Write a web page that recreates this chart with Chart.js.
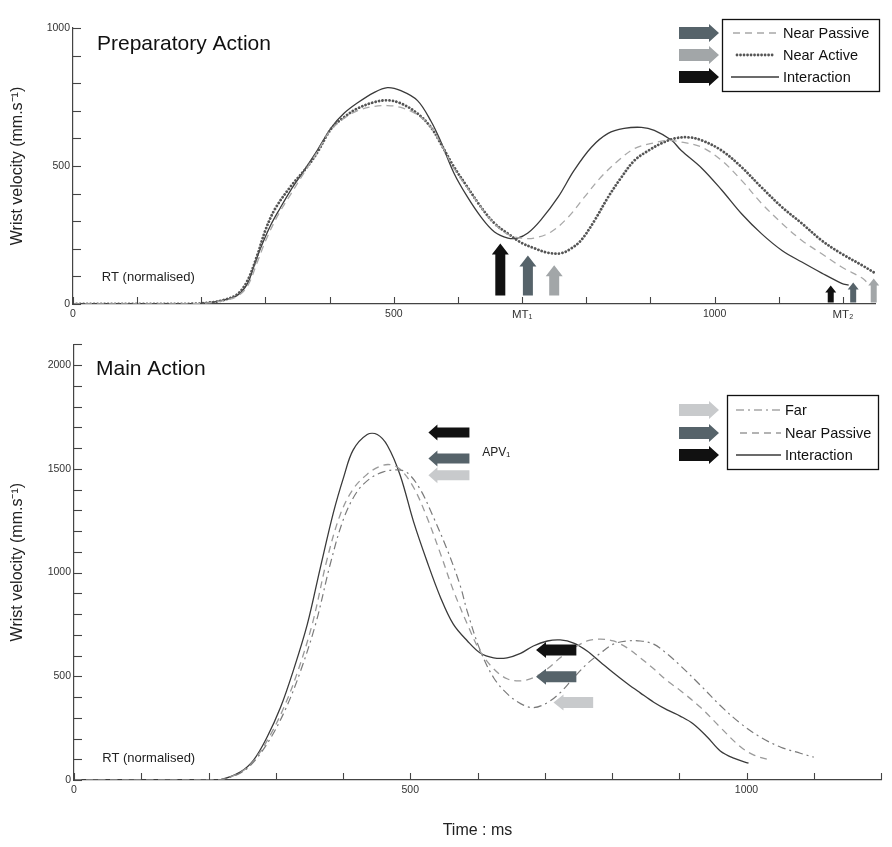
<!DOCTYPE html>
<html><head><meta charset="utf-8">
<script src="https://cdn.jsdelivr.net/npm/chart.js@4.4.1/dist/chart.umd.min.js"></script>
<style>
html,body{margin:0;padding:0;background:#fff;}
#wrap{position:relative;width:892px;height:847px;background:#fff;}
#c1{position:absolute;left:0;top:0;width:892px;height:335px;}
#c2{position:absolute;left:0;top:335px;width:892px;height:512px;}
</style></head><body>
<div id="wrap"><canvas id="c1" width="892" height="335"></canvas><canvas id="c2" width="892" height="512"></canvas></div>
<script>
// ---------- Preparatory Action (top) ----------
const prepNearPassiveT = [0,100,190,215,234,256,272,287,300,319,340,360,381,401,422,443,469,490,511,537,558,573,594,615,636,657,678,698,719,745,772,797,823,850,875,902,928,948,980,1011,1042,1073,1105,1136,1167,1198,1230,1237];
const prepNearPassiveV = [0,0,1,5,12,28,65,150,228,320,400,475,552,628,672,700,716,719,712,685,640,582,490,420,350,290,252,239,239,261,315,387,460,520,563,582,593,587,568,520,448,365,292,230,182,134,94,80];
const prepNearActiveT = [0,100,190,215,234,256,272,287,300,315,339,365,381,403,422,443,469,490,511,537,558,573,594,615,636,657,678,698,719,740,761,777,792,813,834,855,875,897,917,938,959,980,1011,1042,1073,1105,1136,1167,1198,1230,1250];
const prepNearActiveV = [0,0,1,6,14,35,85,175,268,345,425,497,550,637,676,708,731,738,727,690,640,582,496,423,351,292,255,223,202,186,184,202,231,303,387,460,520,556,582,600,604,593,556,496,423,351,292,230,182,140,112];
const prepInteractionT = [0,100,190,215,234,256,272,281,292,308,323,339,359,381,403,422,443,469,490,511,537,558,573,594,615,636,657,678,693,709,729,756,781,808,834,859,886,906,933,948,980,1011,1042,1073,1105,1136,1167,1198,1209];
const prepInteractionV = [0,0,1,6,14,31,74,130,200,285,348,411,480,558,640,690,728,766,784,773,737,662,590,473,387,315,261,239,239,257,304,387,484,568,618,636,640,629,593,556,492,413,327,255,194,152,112,75,68];
const prepTickValues = [0,500,700,1000,1200];
const prepTickLabels = ['0','500','MT\u2081','1000','MT\u2082'];
const prepYTickValues = [0,500,1000];
const prepYTickLabels = ['0','500','1000'];
// arrows: [time, velocity from, velocity to]
const prepMT1Arrows = [[666,31,219],[709,31,176],[750,31,140]];
const prepMT2Arrows = [[1181,5,67],[1216,5,78],[1248,5,92]];

// ---------- Main Action (bottom) ----------
const mainFarT = [0,100,200,217,247,267,292,315,337,360,381,401,421,441,460,481,496,515,534,555,574,585,604,624,644,664,683,704,723,743,763,783,802,823,842,862,882,902,932,961,991,1021,1051,1080,1100];
const mainFarV = [0,0,0,1,33,86,200,345,526,760,1040,1260,1390,1455,1485,1495,1480,1400,1270,1110,940,810,625,493,416,368,349,373,421,493,560,612,655,670,670,655,608,550,455,359,273,206,158,129,110];
const mainNearPassiveT = [0,100,200,217,247,267,290,312,333,355,376,396,415,436,455,470,485,505,525,545,564,585,604,624,644,664,683,704,723,743,763,783,802,823,842,862,882,902,932,961,991,1011,1036];
const mainNearPassiveV = [0,0,0,1,36,92,206,349,526,760,1060,1280,1402,1474,1512,1520,1498,1410,1265,1090,915,750,620,536,488,478,493,536,589,636,670,679,670,636,589,536,478,430,349,254,160,120,96];
const mainInteractionT = [0,100,200,217,247,267,287,307,326,347,366,386,401,415,436,451,466,485,505,525,545,564,585,604,624,644,664,683,704,723,743,763,783,802,823,842,862,882,902,921,942,961,981,1003];
const mainInteractionV = [0,0,0,1,38,96,206,349,526,751,1019,1292,1460,1590,1665,1665,1612,1469,1244,1053,880,751,670,612,589,589,610,646,670,675,660,622,568,517,464,420,375,338,307,270,206,140,105,81];
const mainTickValues = [0,500,1000];
const mainTickLabels = ['0','500','1000'];
const mainYTickValues = [0,500,1000,1500,2000];
const mainYTickLabels = ['0','500','1000','1500','2000'];
// arrows: [time tip, time tail, velocity]
const mainAPVArrows = [[527,588,1675],[527,588,1550],[527,588,1469]];
const mainSecondArrows = [[687,747,627],[687,747,498],[713,772,373]];

const BLACK = '#111111', DARK = '#56636a', LIGHT1 = '#a2a6a8', LIGHT2 = '#c8cacc';
const FONT = "'Liberation Sans', Arial, sans-serif";
Chart.defaults.font.family = FONT;

function pts(t, v) { return t.map((x, i) => ({x: x, y: v[i]})); }

function arrow(ctx, x0, y0, x1, y1, bw, hw, hl, color) {
  const dx = x1 - x0, dy = y1 - y0, len = Math.hypot(dx, dy);
  const ux = dx / len, uy = dy / len, px = -uy, py = ux;
  const nx = x1 - ux * hl, ny = y1 - uy * hl;
  ctx.beginPath();
  ctx.moveTo(x0 + px * bw / 2, y0 + py * bw / 2);
  ctx.lineTo(nx + px * bw / 2, ny + py * bw / 2);
  ctx.lineTo(nx + px * hw / 2, ny + py * hw / 2);
  ctx.lineTo(x1, y1);
  ctx.lineTo(nx - px * hw / 2, ny - py * hw / 2);
  ctx.lineTo(nx - px * bw / 2, ny - py * bw / 2);
  ctx.lineTo(x0 - px * bw / 2, y0 - py * bw / 2);
  ctx.closePath();
  ctx.fillStyle = color;
  ctx.fill();
}

function tickLabelFrom(values, labels) {
  return function (v) { const i = values.indexOf(v); return i >= 0 ? labels[i] : ''; };
}

function drawInwardTicks(chart, step) {
  const ctx = chart.ctx, xs = chart.scales.x, ys = chart.scales.y;
  ctx.save();
  ctx.strokeStyle = '#444';
  ctx.lineWidth = 1.1;
  xs.ticks.forEach(t => {
    if (t.value % step.x !== 0) return;
    const p = Math.round(xs.getPixelForValue(t.value)) + 0.5;
    ctx.beginPath(); ctx.moveTo(p, xs.top); ctx.lineTo(p, xs.top - 7); ctx.stroke();
  });
  ys.ticks.forEach(t => {
    if (t.value % step.y !== 0) return;
    const p = Math.round(ys.getPixelForValue(t.value)) + 0.5;
    ctx.beginPath(); ctx.moveTo(ys.right, p); ctx.lineTo(ys.right + 8, p); ctx.stroke();
  });
  ctx.restore();
}

function drawLegend(chart, L) {
  const ctx = chart.ctx;
  ctx.save();
  ctx.strokeStyle = '#111';
  ctx.lineWidth = 1.3;
  ctx.strokeRect(L.box[0] + 0.5, L.box[1] + 0.5, L.box[2], L.box[3]);
  chart.data.datasets.forEach((ds, i) => {
    const y = L.rows[i];
    arrow(ctx, L.arrowX[0], y, L.arrowX[1], y, 12, 18, 10, L.arrowColors[i]);
    ctx.save();
    ctx.beginPath();
    ctx.strokeStyle = ds.borderColor;
    ctx.lineWidth = ds.borderWidth;
    ctx.lineCap = ds.borderCapStyle || 'butt';
    ctx.setLineDash(ds.borderDash || []);
    ctx.moveTo(L.lineX[i][0], y); ctx.lineTo(L.lineX[i][1], y);
    ctx.stroke();
    ctx.restore();
    ctx.fillStyle = '#111';
    ctx.font = '14.5px ' + FONT;
    ctx.textBaseline = 'middle';
    ctx.textAlign = 'left';
    ctx.fillText(ds.label, L.textX, y + 1);
  });
  ctx.restore();
}

const decor = {
  id: 'decor',
  afterDatasetsDraw(chart, args, o) {
    const ctx = chart.ctx, xs = chart.scales.x, ys = chart.scales.y, ca = chart.chartArea;
    drawInwardTicks(chart, o.step);
    ctx.save();
    ctx.fillStyle = '#111';
    ctx.font = '21px ' + FONT;
    ctx.textBaseline = 'alphabetic';
    ctx.textAlign = 'left';
    ctx.fillText(o.title, ca.left + o.titleDx, ca.top + o.titleDy);
    ctx.font = '13px ' + FONT;
    ctx.textBaseline = 'middle';
    ctx.fillStyle = '#222';
    ctx.fillText('RT (normalised)', xs.getPixelForValue(o.rt[0]), ys.getPixelForValue(o.rt[1]));
    (o.vArrows || []).forEach(a => {
      arrow(ctx, xs.getPixelForValue(a.t), ys.getPixelForValue(a.from), xs.getPixelForValue(a.t), ys.getPixelForValue(a.to), a.bw, a.hw, a.hl, a.color);
    });
    (o.hArrows || []).forEach(a => {
      arrow(ctx, xs.getPixelForValue(a.tail), ys.getPixelForValue(a.v), xs.getPixelForValue(a.tip), ys.getPixelForValue(a.v), a.bw, a.hw, a.hl, a.color);
    });
    if (o.apv) {
      ctx.font = '12px ' + FONT;
      ctx.fillStyle = '#222';
      ctx.textBaseline = 'middle';
      ctx.fillText('APV\u2081', xs.getPixelForValue(o.apv[0]), ys.getPixelForValue(o.apv[1]));
    }
    ctx.restore();
    drawLegend(chart, o.legend);
  }
};

function axisTicksFont(c) {
  const lbl = c.tick && c.tick.label;
  return {size: (typeof lbl === 'string' && lbl.indexOf('MT') === 0) ? 11.5 : 10.5, family: FONT};
}

const lineBase = {pointRadius: 0, tension: 0.35, fill: false};

// ---------- top chart ----------
const colorsTop = [DARK, LIGHT1, BLACK];
new Chart(document.getElementById('c1'), {
  type: 'line',
  data: {datasets: [
    Object.assign({label: 'Near Passive', data: pts(prepNearPassiveT, prepNearPassiveV), borderColor: '#a8a8a8', borderWidth: 1.3, borderDash: [7, 5]}, lineBase),
    Object.assign({label: 'Near Active', data: pts(prepNearActiveT, prepNearActiveV), borderColor: '#555555', borderWidth: 2.8, borderDash: [0.01, 3.5], borderCapStyle: 'round'}, lineBase),
    Object.assign({label: 'Interaction', data: pts(prepInteractionT, prepInteractionV), borderColor: '#3a3a3a', borderWidth: 1.3}, lineBase)
  ]},
  options: {
    responsive: false, animation: false, events: [],
    layout: {padding: {left: 0, right: 17, top: 28, bottom: 0}},
    plugins: {
      legend: {display: false}, tooltip: {enabled: false},
      decor: {
        step: {x: 100, y: 100},
        title: 'Preparatory Action', titleDx: 24, titleDy: 22,
        rt: [45, 98],
        vArrows: prepMT1Arrows.map((a, i) => ({t: a[0], from: a[1], to: a[2], bw: 10, hw: 17, hl: 11, color: [BLACK, DARK, LIGHT1][i]}))
          .concat(prepMT2Arrows.map((a, i) => ({t: a[0], from: a[1], to: a[2], bw: 6, hw: 11, hl: 7, color: [BLACK, DARK, LIGHT1][i]}))),
        legend: {box: [722, 19, 157, 72], rows: [33, 55, 77], arrowX: [679, 719], arrowColors: colorsTop,
                 lineX: [[733, 778], [737, 773], [731, 779]], textX: 783}
      }
    },
    scales: {
      x: {type: 'linear', min: 0, max: 1250,
          afterFit(s) { s.height = 31; },
          grid: {display: false, drawTicks: false},
          border: {color: '#444', width: 1.2},
          ticks: {stepSize: 100, includeBounds: false, autoSkip: false, maxRotation: 0, padding: 4, color: '#333',
                  font: axisTicksFont, callback: tickLabelFrom(prepTickValues, prepTickLabels)}},
      y: {type: 'linear', min: 0, max: 1000,
          afterFit(s) { s.width = 73; },
          grid: {display: false, drawTicks: false},
          border: {color: '#444', width: 1.2},
          title: {display: true, text: 'Wrist velocity (mm.s\u207B\u00B9)', color: '#222', font: {size: 16, family: FONT}, padding: {top: 8, bottom: 0}},
          ticks: {stepSize: 100, autoSkip: false, padding: 3, color: '#333',
                  font: axisTicksFont, callback: tickLabelFrom(prepYTickValues, prepYTickLabels)}}
    }
  },
  plugins: [decor]
});

// ---------- bottom chart ----------
const colorsBottom = [LIGHT2, DARK, BLACK];
new Chart(document.getElementById('c2'), {
  type: 'line',
  data: {datasets: [
    Object.assign({label: 'Far', data: pts(mainFarT, mainFarV), borderColor: '#7a7a7a', borderWidth: 1.2, borderDash: [8, 4, 2, 4]}, lineBase),
    Object.assign({label: 'Near Passive', data: pts(mainNearPassiveT, mainNearPassiveV), borderColor: '#9a9a9a', borderWidth: 1.3, borderDash: [7, 5]}, lineBase),
    Object.assign({label: 'Interaction', data: pts(mainInteractionT, mainInteractionV), borderColor: '#3a3a3a', borderWidth: 1.3}, lineBase)
  ]},
  options: {
    responsive: false, animation: false, events: [],
    layout: {padding: {left: 0, right: 11, top: 6, bottom: 0}},
    plugins: {
      legend: {display: false}, tooltip: {enabled: false},
      decor: {
        step: {x: 100, y: 100},
        title: 'Main Action', titleDx: 22, titleDy: 31,
        rt: [42, 105],
        hArrows: mainAPVArrows.map((a, i) => ({tip: a[0], tail: a[1], v: a[2], bw: 10, hw: 16, hl: 9, color: [BLACK, DARK, LIGHT2][i]}))
          .concat(mainSecondArrows.map((a, i) => ({tip: a[0], tail: a[1], v: a[2], bw: 11, hw: 16, hl: 10, color: [BLACK, DARK, LIGHT2][i]}))),
        apv: [607, 1579],
        legend: {box: [727, 60, 151, 74], rows: [75, 98, 120], arrowX: [679, 719], arrowColors: colorsBottom,
                 lineX: [[736, 781], [740, 781], [736, 781]], textX: 785}
      }
    },
    scales: {
      x: {type: 'linear', min: 0, max: 1200,
          afterFit(s) { s.height = 67; },
          grid: {display: false, drawTicks: false},
          border: {color: '#444', width: 1.2},
          title: {display: true, text: 'Time : ms', color: '#222', font: {size: 16, family: FONT}, padding: {top: 0, bottom: 7}},
          ticks: {stepSize: 100, autoSkip: false, maxRotation: 0, padding: 4, color: '#333',
                  font: axisTicksFont, callback: tickLabelFrom(mainTickValues, mainTickLabels)}},
      y: {type: 'linear', min: 0, max: 2100,
          afterFit(s) { s.width = 74; },
          grid: {display: false, drawTicks: false},
          border: {color: '#444', width: 1.2},
          title: {display: true, text: 'Wrist velocity (mm.s\u207B\u00B9)', color: '#222', font: {size: 16, family: FONT}, padding: {top: 8, bottom: 0}},
          ticks: {stepSize: 100, autoSkip: false, padding: 3, color: '#333',
                  font: axisTicksFont, callback: tickLabelFrom(mainYTickValues, mainYTickLabels)}}
    }
  },
  plugins: [decor]
});
</script>
</body></html>
